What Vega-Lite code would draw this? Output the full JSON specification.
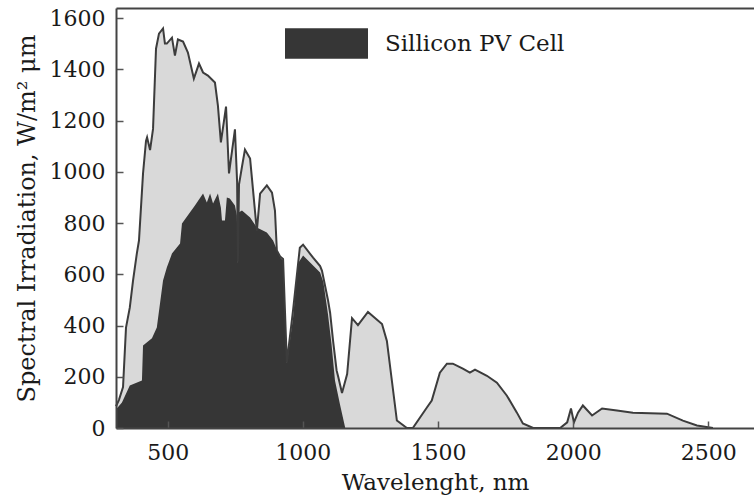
{
  "$schema": "https://vega.github.io/schema/vega-lite/v6.json",
  "width": 638,
  "height": 420,
  "autosize": {"type": "none"},
  "padding": {"left": 116, "top": 8, "right": 0, "bottom": 67},
  "background": "white",
  "config": {"view": {"stroke": null}, "font": "DejaVu Serif"},
  "datasets": {
    "total": [
      {"wl": 309, "irr": 85}, {"wl": 320, "irr": 110}, {"wl": 335, "irr": 160}, {"wl": 346, "irr": 392},
      {"wl": 360, "irr": 470}, {"wl": 372, "irr": 575}, {"wl": 386, "irr": 681}, {"wl": 394, "irr": 732},
      {"wl": 409, "irr": 994}, {"wl": 420, "irr": 1121}, {"wl": 424, "irr": 1135}, {"wl": 435, "irr": 1085},
      {"wl": 446, "irr": 1168}, {"wl": 457, "irr": 1481}, {"wl": 468, "irr": 1540}, {"wl": 483, "irr": 1560},
      {"wl": 490, "irr": 1501}, {"wl": 497, "irr": 1501}, {"wl": 516, "irr": 1524}, {"wl": 527, "irr": 1454},
      {"wl": 538, "irr": 1517}, {"wl": 557, "irr": 1509}, {"wl": 575, "irr": 1466}, {"wl": 597, "irr": 1364},
      {"wl": 616, "irr": 1423}, {"wl": 631, "irr": 1388}, {"wl": 649, "irr": 1376}, {"wl": 675, "irr": 1349},
      {"wl": 686, "irr": 1259}, {"wl": 697, "irr": 1115}, {"wl": 716, "irr": 1255}, {"wl": 727, "irr": 994},
      {"wl": 749, "irr": 1166}, {"wl": 757, "irr": 960}, {"wl": 760, "irr": 650}, {"wl": 764, "irr": 950},
      {"wl": 775, "irr": 1020}, {"wl": 786, "irr": 1087}, {"wl": 805, "irr": 1052}, {"wl": 830, "irr": 770},
      {"wl": 842, "irr": 915}, {"wl": 867, "irr": 947}, {"wl": 886, "irr": 919}, {"wl": 897, "irr": 849},
      {"wl": 904, "irr": 693}, {"wl": 916, "irr": 670}, {"wl": 927, "irr": 660}, {"wl": 941, "irr": 255},
      {"wl": 964, "irr": 460}, {"wl": 989, "irr": 704}, {"wl": 1001, "irr": 716}, {"wl": 1038, "irr": 665},
      {"wl": 1064, "irr": 632}, {"wl": 1071, "irr": 614}, {"wl": 1093, "irr": 500}, {"wl": 1101, "irr": 450},
      {"wl": 1112, "irr": 340}, {"wl": 1125, "irr": 225}, {"wl": 1131, "irr": 200}, {"wl": 1145, "irr": 137},
      {"wl": 1164, "irr": 211}, {"wl": 1182, "irr": 429}, {"wl": 1204, "irr": 402}, {"wl": 1241, "irr": 453},
      {"wl": 1293, "irr": 406}, {"wl": 1311, "irr": 340}, {"wl": 1348, "irr": 29}, {"wl": 1385, "irr": 0},
      {"wl": 1407, "irr": 0}, {"wl": 1459, "irr": 80}, {"wl": 1477, "irr": 107}, {"wl": 1507, "irr": 216},
      {"wl": 1533, "irr": 251}, {"wl": 1555, "irr": 251}, {"wl": 1592, "irr": 232}, {"wl": 1618, "irr": 216},
      {"wl": 1637, "irr": 228}, {"wl": 1681, "irr": 204}, {"wl": 1718, "irr": 177}, {"wl": 1755, "irr": 126},
      {"wl": 1792, "irr": 60}, {"wl": 1814, "irr": 18}, {"wl": 1852, "irr": 0}, {"wl": 1952, "irr": 0},
      {"wl": 1978, "irr": 22}, {"wl": 1992, "irr": 76}, {"wl": 2003, "irr": 22}, {"wl": 2018, "irr": 60},
      {"wl": 2036, "irr": 88}, {"wl": 2070, "irr": 49}, {"wl": 2107, "irr": 76}, {"wl": 2162, "irr": 68},
      {"wl": 2221, "irr": 60}, {"wl": 2347, "irr": 56}, {"wl": 2406, "irr": 29}, {"wl": 2458, "irr": 10},
      {"wl": 2517, "irr": 0}
    ],
    "pv": [
      {"wl": 309, "irr": 70}, {"wl": 312, "irr": 76}, {"wl": 331, "irr": 100}, {"wl": 360, "irr": 166},
      {"wl": 405, "irr": 185}, {"wl": 409, "irr": 322}, {"wl": 442, "irr": 350}, {"wl": 460, "irr": 392},
      {"wl": 483, "irr": 576}, {"wl": 497, "irr": 627}, {"wl": 516, "irr": 681}, {"wl": 534, "irr": 705},
      {"wl": 546, "irr": 720}, {"wl": 553, "irr": 799}, {"wl": 583, "irr": 842}, {"wl": 601, "irr": 869},
      {"wl": 631, "irr": 916}, {"wl": 645, "irr": 881}, {"wl": 657, "irr": 916}, {"wl": 668, "irr": 877},
      {"wl": 686, "irr": 916}, {"wl": 697, "irr": 860}, {"wl": 701, "irr": 810}, {"wl": 712, "irr": 810},
      {"wl": 719, "irr": 900}, {"wl": 730, "irr": 896}, {"wl": 749, "irr": 869}, {"wl": 756, "irr": 830},
      {"wl": 760, "irr": 642}, {"wl": 764, "irr": 842}, {"wl": 775, "irr": 849}, {"wl": 805, "irr": 822},
      {"wl": 830, "irr": 783}, {"wl": 867, "irr": 763}, {"wl": 890, "irr": 732}, {"wl": 916, "irr": 666},
      {"wl": 927, "irr": 654}, {"wl": 941, "irr": 252}, {"wl": 964, "irr": 431}, {"wl": 982, "irr": 642},
      {"wl": 1001, "irr": 674}, {"wl": 1064, "irr": 607}, {"wl": 1076, "irr": 570}, {"wl": 1093, "irr": 445},
      {"wl": 1106, "irr": 330}, {"wl": 1119, "irr": 185}, {"wl": 1138, "irr": 90}, {"wl": 1157, "irr": 0}
    ]
  },
  "layer": [
    {
      "data": {"name": "total"},
      "mark": {"type": "area", "color": "#d9d9d9"},
      "encoding": {
        "x": {
          "field": "wl", "type": "quantitative",
          "scale": {"domain": [309, 2669], "nice": false, "zero": false},
          "axis": {
            "values": [500, 1000, 1500, 2000, 2500], "format": "d", "zindex": 1,
            "grid": false, "tickSize": -7, "tickColor": "#555", "tickWidth": 1.5,
            "domainColor": "#444", "domainWidth": 2,
            "labelFontSize": 22, "labelColor": "#1a1a1a", "labelPadding": 21,
            "title": "Wavelenght, nm", "titleFontSize": 23, "titleFontWeight": "normal",
            "titleColor": "#1a1a1a", "titlePadding": 8
          }
        },
        "y": {
          "field": "irr", "type": "quantitative",
          "scale": {"domain": [0, 1640], "nice": false},
          "axis": {
            "values": [0, 200, 400, 600, 800, 1000, 1200, 1400, 1600], "format": "d", "zindex": 1,
            "grid": false, "tickSize": -7, "tickColor": "#555", "tickWidth": 1.5,
            "domainColor": "#444", "domainWidth": 2,
            "labelFontSize": 22, "labelColor": "#1a1a1a", "labelPadding": 18,
            "title": "Spectral Irradiation, W/m² μm", "titleFontSize": 24, "titleFontWeight": "normal",
            "titleColor": "#1a1a1a", "titlePadding": 10
          }
        }
      }
    },
    {
      "data": {"name": "pv"},
      "mark": {"type": "area"},
      "encoding": {
        "x": {"field": "wl", "type": "quantitative", "axis": null},
        "y": {"field": "irr", "type": "quantitative"},
        "color": {
          "datum": "Sillicon PV Cell",
          "scale": {"range": ["#363636"]},
          "legend": {
            "orient": "none", "legendX": 169, "legendY": -6, "title": null, "padding": 0,
            "symbolType": "M-1,-0.369H1V0.369H-1Z", "symbolSize": 6889, "symbolStrokeWidth": 0,
            "symbolOpacity": 1,
            "labelFontSize": 23, "labelFont": "DejaVu Serif", "labelColor": "#1a1a1a",
            "labelOffset": 17, "labelLimit": 400
          }
        }
      }
    },
    {
      "data": {"name": "total"},
      "mark": {"type": "line", "color": "#3c3c3c", "strokeWidth": 2},
      "encoding": {
        "x": {
          "field": "wl", "type": "quantitative",
          "axis": {"orient": "top", "labels": false, "ticks": false, "title": null, "grid": false,
                   "domainColor": "#444", "domainWidth": 2, "zindex": 1}
        },
        "y": {"field": "irr", "type": "quantitative"}
      }
    }
  ],
  "resolve": {"axis": {"x": "independent"}}
}
